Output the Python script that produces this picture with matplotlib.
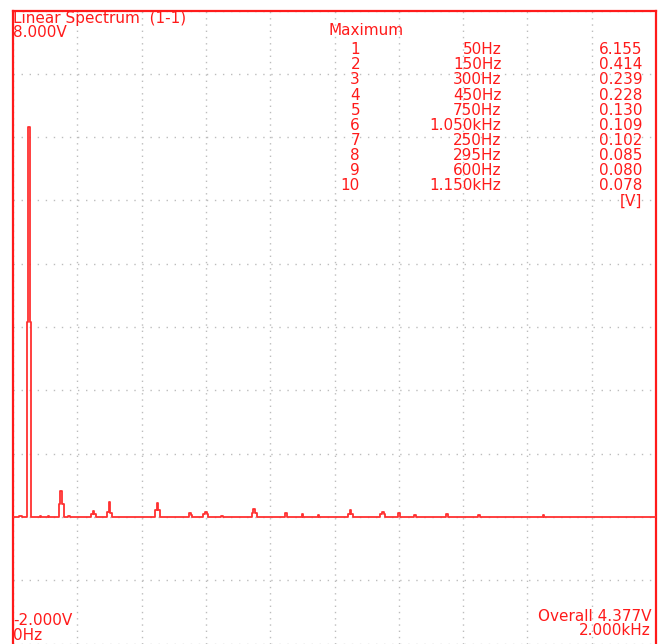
import numpy as np
import matplotlib
matplotlib.use("Agg")
import matplotlib.pyplot as plt

# spectrum bins (5 Hz resolution), values in V
bin_step = 5
f_max = 2000
noise_floor = 0.006
spec_hz = [20, 25, 45, 50, 55, 85, 110, 145, 150, 155, 175,
           245, 250, 255, 295, 300, 305, 445, 450, 455,
           550, 555, 595, 600, 605, 650, 745, 750, 755,
           850, 900, 950, 1045, 1050, 1055, 1145, 1150, 1155,
           1200, 1250, 1350, 1450, 1650]
spec_v = [0.012, 0.015, 3.08, 6.155, 3.08, 0.015, 0.01, 0.21, 0.414, 0.21, 0.012,
          0.05, 0.102, 0.05, 0.085, 0.239, 0.07, 0.11, 0.228, 0.11,
          0.065, 0.03, 0.04, 0.080, 0.04, 0.02, 0.06, 0.130, 0.06,
          0.065, 0.05, 0.035, 0.05, 0.109, 0.05, 0.04, 0.078, 0.04,
          0.06, 0.03, 0.045, 0.025, 0.03]

# "Maximum" table
rank = [1, 2, 3, 4, 5, 6, 7, 8, 9, 10]
max_freq = ["50Hz", "150Hz", "300Hz", "450Hz", "750Hz", "1.050kHz",
            "250Hz", "295Hz", "600Hz", "1.150kHz"]
max_volt = [6.155, 0.414, 0.239, 0.228, 0.130, 0.109, 0.102, 0.085, 0.080, 0.078]

y_top = 8.0
y_bottom = -2.0
overall = 4.377

freqs = np.arange(0, f_max + bin_step, bin_step)
volts = np.full(len(freqs), noise_floor)
for f, v in zip(spec_hz, spec_v):
    volts[f // bin_step] = v

W, H = 662, 644
RED = "#ff1a1a"
fig = plt.figure(figsize=(W / 100, H / 100), dpi=100)
fig.patch.set_facecolor("white")
ax = fig.add_axes([13 / W, 0.4 / H, 643 / W, 633 / H])

ax.plot(freqs, volts, color="#ff3030", lw=1.3, drawstyle="steps-mid", zorder=3)
ax.set_xlim(0, f_max)
ax.set_ylim(y_bottom, y_top)

# dotted grid, one line per division
ax.set_xticks(np.arange(0, f_max + 1, 200))
ax.set_yticks(np.arange(y_bottom, y_top + 0.5, 1))
ax.xaxis.grid(True, color="#bdbdbd", lw=1.0, linestyle=(0, (1.0, 3.5)))
ax.yaxis.grid(True, color="#bdbdbd", lw=1.0, linestyle=(0, (1.0, 4.8)))
ax.tick_params(length=0, labelbottom=False, labelleft=False)
for side in ["left", "top", "right"]:
    ax.spines[side].set_color(RED)
    ax.spines[side].set_linewidth(1.6)
ax.spines["bottom"].set_visible(False)


def put(x, y, s, ha="left"):
    fig.text(x / W, 1 - y / H, s, ha=ha, va="baseline", color=RED,
             fontsize=11, family="DejaVu Sans")


put(13, 22.7, "Linear Spectrum  (1-1)")
put(13, 36.7, "%.3fV" % y_top)
put(328, 35, "Maximum")
row_y = 54.3
for i in range(len(rank)):
    y = row_y + i * 15.1
    put(360, y, str(rank[i]), ha="right")
    put(501.5, y, max_freq[i], ha="right")
    put(642.5, y, "%.3f" % max_volt[i], ha="right")
put(642.5, row_y + 10 * 15.1, "[V]", ha="right")

put(13, 625, "%.3fV" % y_bottom)
put(13, 640, "0Hz")
put(651, 620.7, "Overall %.3fV" % overall, ha="right")
put(651, 635, "%.3fkHz" % (f_max / 1000), ha="right")

fig.savefig("out.png", dpi=100, facecolor="white")
